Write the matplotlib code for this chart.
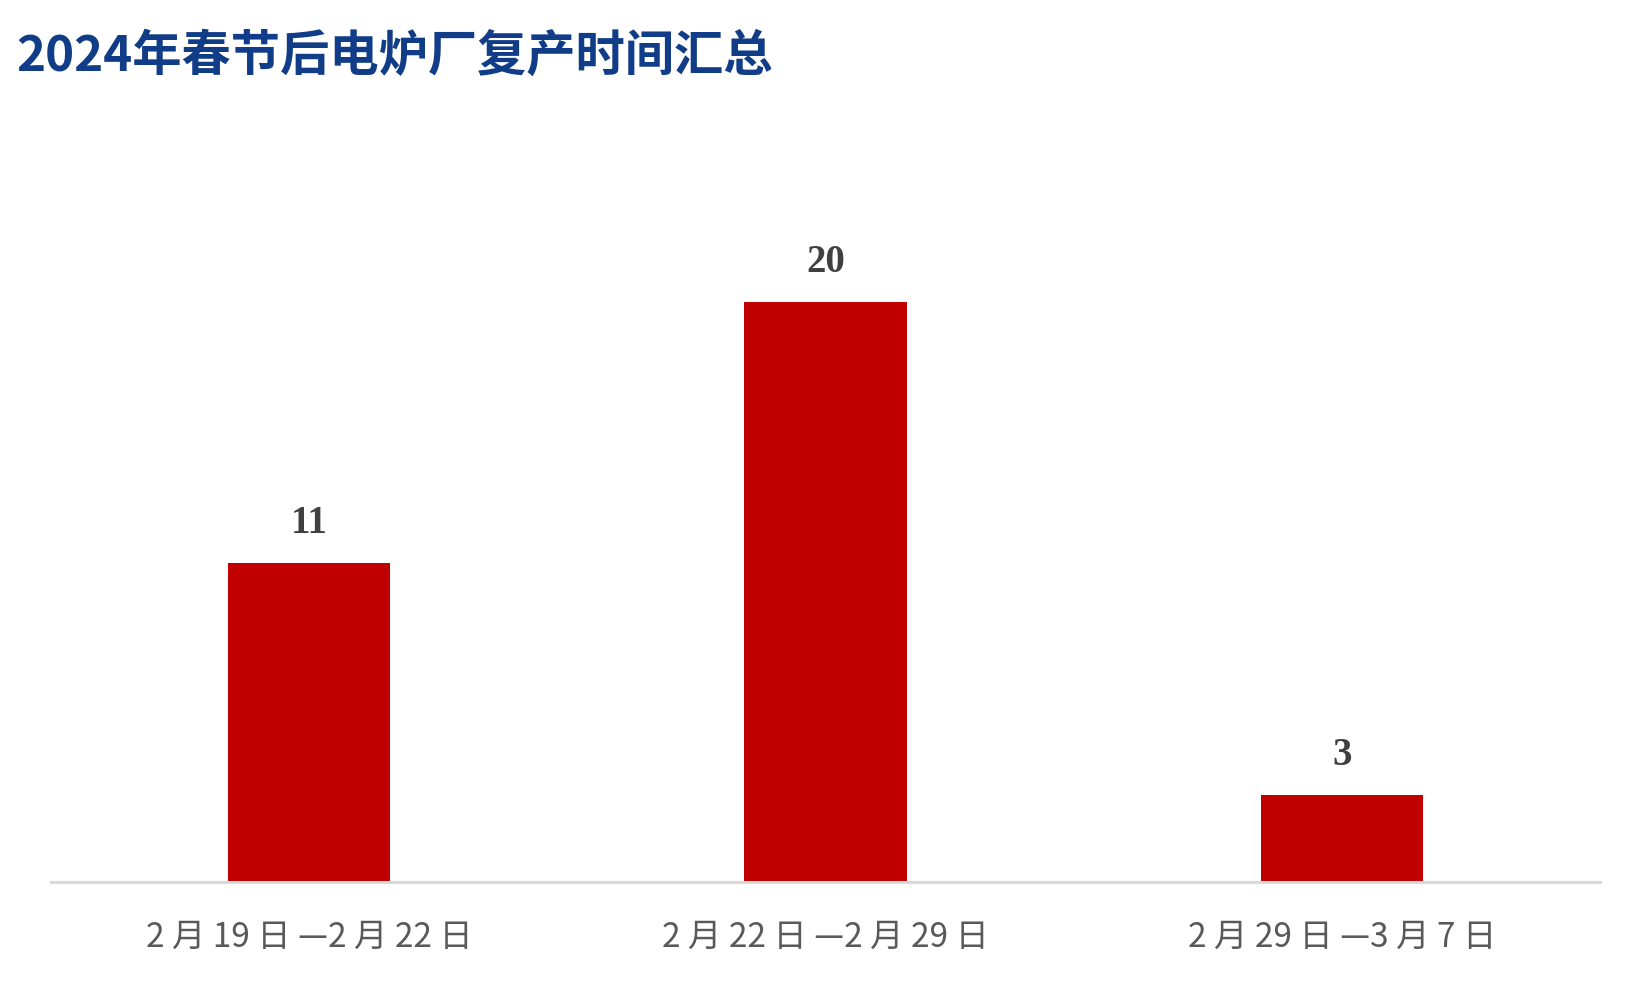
import matplotlib

matplotlib.use("Agg")
import matplotlib.pyplot as plt

plt.rcParams["font.family"] = ["Noto Sans CJK SC", "DejaVu Sans"]

categories = ["2 月 19 日 —2 月 22 日", "2 月 22 日 —2 月 29 日", "2 月 29 日 —3 月 7 日"]
values = [11, 20, 3]
title = "2024年春节后电炉厂复产时间汇总"

fig = plt.figure(figsize=(16.51, 9.9), dpi=100)
fig.patch.set_facecolor("#ffffff")
ax = fig.add_axes([51 / 1651, 1 - 882 / 990, 1549 / 1651, 682 / 990])

x = range(len(categories))
bars = ax.bar(x, values, width=0.314, color="#c00000", zorder=2)
ax.set_xlim(-0.5, len(categories) - 0.5)
ax.set_ylim(0, 682 / 29)

for bar, v in zip(bars, values):
    ax.annotate(
        f"{v}",
        (bar.get_x() + bar.get_width() / 2, v),
        xytext=(0, 15),
        textcoords="offset points",
        ha="center",
        va="bottom",
        fontsize=28,
        fontweight="bold",
        family=["Liberation Serif", "DejaVu Serif"],
        color="#404040",
    )

for side in ("top", "right", "left"):
    ax.spines[side].set_visible(False)
ax.spines["bottom"].set_color("#d9d9d9")
ax.spines["bottom"].set_linewidth(2.2)
ax.set_yticks([])
ax.set_xticks(list(x))
ax.set_xticklabels(categories, fontsize=24, color="#595959")
ax.tick_params(axis="x", length=0, pad=27)

fig.text(
    16 / 1651,
    1 - 56 / 990,
    title,
    ha="left",
    va="center",
    fontsize=35.5,
    fontweight="bold",
    color="#103c88",
)

fig.savefig("out.png", dpi=100)
plt.close(fig)
